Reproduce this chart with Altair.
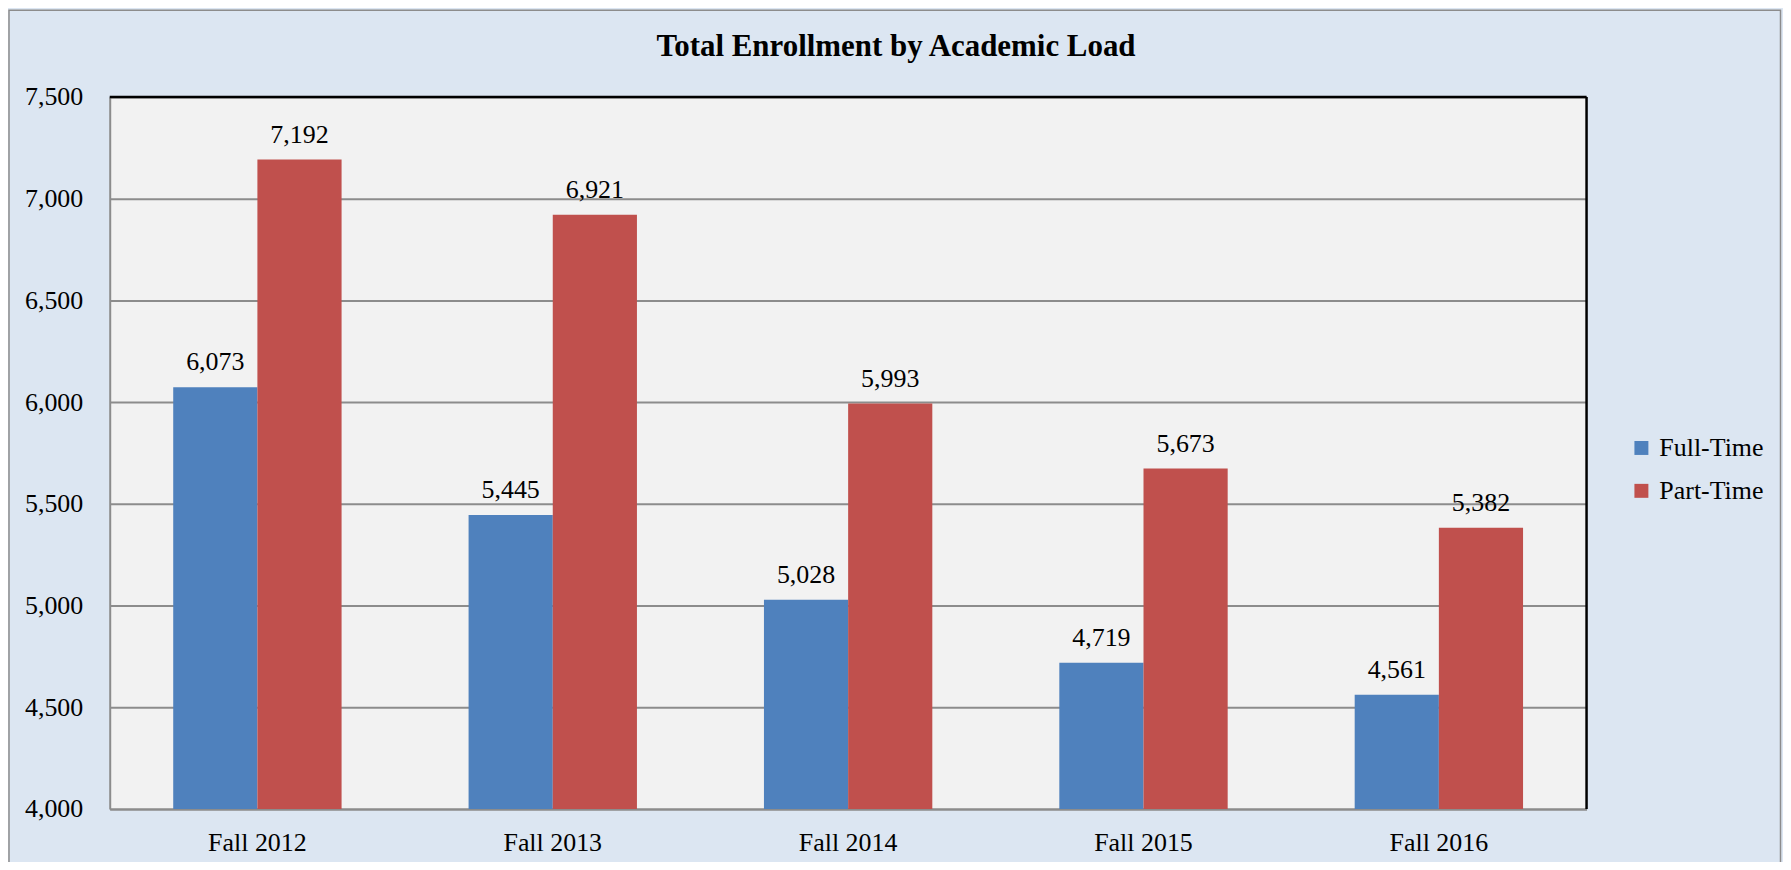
import altair as alt
import pandas as pd

terms = ["Fall 2012", "Fall 2013", "Fall 2014", "Fall 2015", "Fall 2016"]
full_time = [6073, 5445, 5028, 4719, 4561]
part_time = [7192, 6921, 5993, 5673, 5382]
series = ["Full-Time", "Part-Time"]
colors = ["#4F81BD", "#C0504D"]
y_ticks = [4000, 4500, 5000, 5500, 6000, 6500, 7000, 7500]
y_min, y_max = 4000, 7500
title_text = "Total Enrollment by Academic Load"

rows = []
for t, f, p in zip(terms, full_time, part_time):
    rows.append({"term": t, "load": series[0], "value": f})
    rows.append({"term": t, "load": series[1], "value": p})
df = pd.DataFrame(rows)

W, H = 1481, 714
PL, PT, PR, PB = 102, 88, 197, 52
FONT = "Liberation Serif"
GRID = "#8C8C8C"

x = alt.X(
    "term:N", sort=terms, title=None,
    scale=alt.Scale(paddingInner=0.43, paddingOuter=0.215),
    axis=alt.Axis(labelAngle=0, ticks=False, labelPadding=21, labelFontSize=26,
                  labelFont=FONT, labelColor="black", domainColor=GRID,
                  domainWidth=2, grid=False),
)
xo = alt.XOffset("load:N", sort=series, scale=alt.Scale(paddingInner=0, paddingOuter=0))
y = alt.Y(
    "value:Q", title=None,
    scale=alt.Scale(domain=[y_min, y_max], nice=False, zero=False),
    axis=alt.Axis(values=y_ticks, format=",.0f", ticks=False, labelPadding=27,
                  labelFontSize=26, labelFont=FONT, labelColor="black",
                  domainColor=GRID, domainWidth=2, gridColor=GRID, gridWidth=2),
)

base = alt.Chart(df)

bars = base.mark_bar().encode(
    x=x, xOffset=xo, y=y, y2=alt.datum(y_min),
    color=alt.Color(
        "load:N",
        scale=alt.Scale(domain=series, range=colors),
        legend=alt.Legend(title=None, orient="none", legendX=1523, legendY=339,
                          symbolType="square", symbolSize=196, symbolStrokeWidth=0,
                          labelFont=FONT, labelFontSize=26, labelColor="black",
                          rowPadding=17, labelOffset=5, padding=0),
    ),
)

labels = base.mark_text(dy=-17, baseline="alphabetic", font=FONT, fontSize=26,
                        color="black").encode(
    x=x, xOffset=xo, y=y, text=alt.Text("value:Q", format=","),
)

one = pd.DataFrame({"k": [0]})
top_rule = alt.Chart(one).mark_rule(color="black", strokeWidth=2.5).encode(
    x=alt.value(0), x2=alt.value(W), y=alt.value(0))
right_rule = alt.Chart(one).mark_rule(color="black", strokeWidth=2.5).encode(
    x=alt.value(W), y=alt.value(0), y2=alt.value(H))
frame = alt.Chart(one).mark_rect(fillOpacity=0, stroke=GRID, strokeWidth=1.5).encode(
    x=alt.value(-PL + 1), x2=alt.value(W + PR - 2.5),
    y=alt.value(-PT + 1), y2=alt.value(H + PB + 10))

chart = alt.layer(bars, labels, top_rule, right_rule, frame).properties(
    width=W, height=H,
    padding={"left": PL, "top": PT, "right": PR, "bottom": PB},
    autosize=alt.AutoSizeParams(type="none"),
    title=alt.Title(title_text, font=FONT, fontSize=31, fontWeight="bold",
                    color="black", anchor="middle", frame="group",
                    baseline="alphabetic", offset=-78, dx=48),
).configure(background="#DCE6F2").configure_view(fill="#F2F2F2", stroke="transparent")

chart.save("out.html", embed_options={"renderer": "svg", "actions": False})
